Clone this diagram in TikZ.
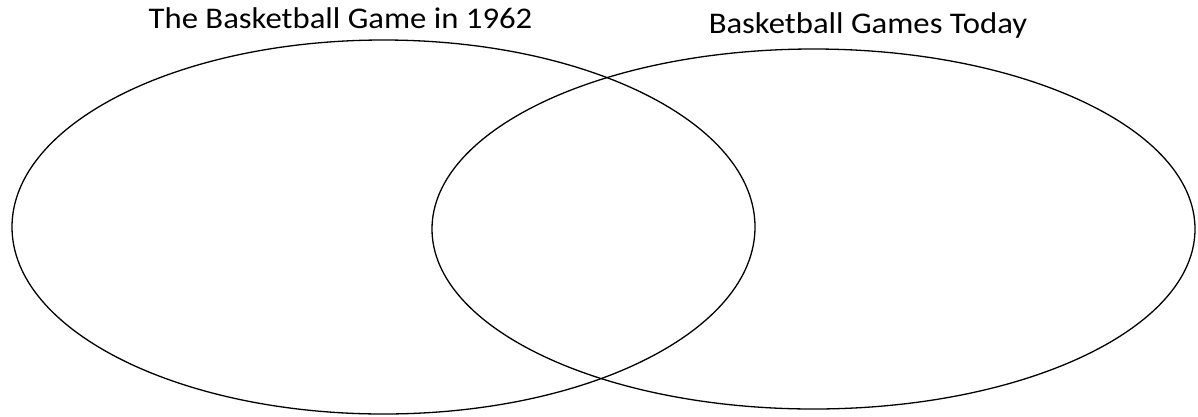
\documentclass[tikz,border=0pt]{standalone}
\usepackage{fontspec}
\setmainfont{Carlito}
\usetikzlibrary{shapes.geometric}
\begin{document}
\begin{tikzpicture}[x=1pt,y=-1pt,
  setellipse/.style={ellipse,draw=black,line width=1.3pt,inner sep=0pt},
  settitle/.style={font=\fontsize{30}{32}\selectfont,inner sep=0pt,anchor=base}]
\useasboundingbox (0,0) rectangle (1198,416);
\node[setellipse,minimum width=743pt,minimum height=374pt] (left) at (383.5,227) {};
\node[setellipse,minimum width=763pt,minimum height=360pt] (right) at (813.5,229) {};
\node[settitle] (lefttitle) at (340.5,28) {\scalebox{1.09}[1]{The Basketball Game in 1962}};
\node[settitle] (righttitle) at (868,33) {\scalebox{1.09}[1]{Basketball Games Today}};
\end{tikzpicture}
\end{document}
